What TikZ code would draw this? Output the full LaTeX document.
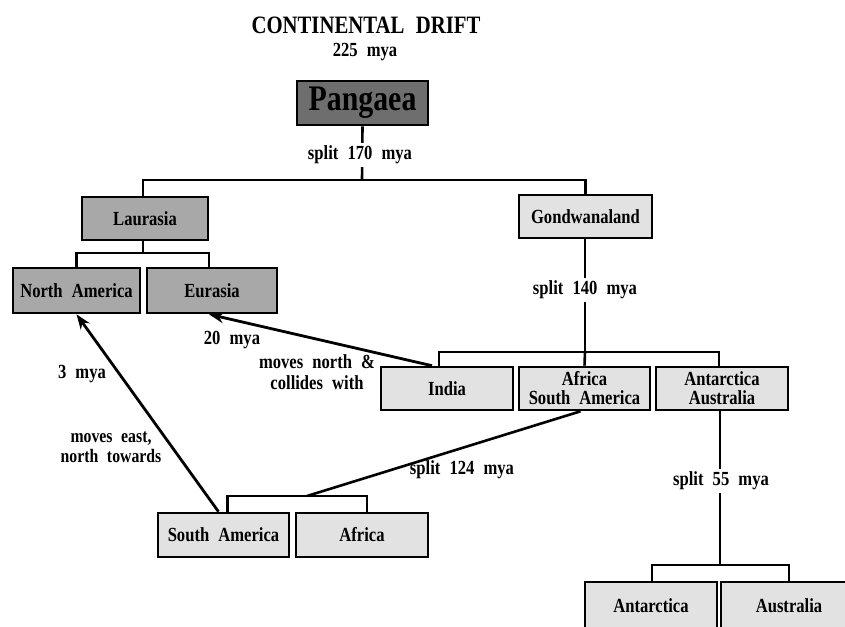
\documentclass[tikz,border=0pt]{standalone}
\usepackage{fontspec}
\setmainfont{Liberation Serif}[WordSpace=2.2,FakeStretch=0.83]
\usetikzlibrary{arrows.meta}
\definecolor{darkbox}{HTML}{6E6E6E}
\definecolor{midbox}{HTML}{A8A8A8}
\definecolor{lightbox}{HTML}{E2E2E2}
\begin{document}
\begin{tikzpicture}[x=1pt,y=-1pt,
  box/.style={draw=black,line width=2.6pt,minimum height=43pt,inner sep=1pt,align=center,
    font=\fontsize{20}{19}\selectfont\bfseries},
  boxmid/.style={box,fill=midbox},
  boxlight/.style={box,fill=lightbox},
  lbl/.style={font=\fontsize{20}{21}\selectfont\bfseries,align=center,inner sep=1pt},
  wlbl/.style={lbl,fill=white,inner sep=3pt},
  conn/.style={line width=2.6pt},
  arr/.style={line width=2.8pt,-{Stealth[length=15pt,width=11pt]}}]
\useasboundingbox (0,0) rectangle (845,626);
\clip (0,0) rectangle (845,626);
\fill[white] (0,0) rectangle (845,626);

% title
\node[font=\fontsize{25}{28}\selectfont\bfseries] (title) at (366,25) {CONTINENTAL DRIFT};
\node[lbl] (t225) at (365,52) {225 mya};

% boxes
\node[box,fill=darkbox,minimum width=131pt,minimum height=44pt,font=\fontsize{36}{38}\selectfont\bfseries] (pang) at (362.5,103) {Pangaea};
\node[boxmid,minimum width=126pt] (laur) at (145,218.5) {Laurasia};
\node[boxlight,minimum width=133pt] (gond) at (585.5,216.5) {Gondwanaland};
\node[boxmid,minimum width=127pt,minimum height=45pt] (nam) at (76.5,290.5) {North America};
\node[boxmid,minimum width=130pt,minimum height=45pt] (eur) at (212,290.5) {Eurasia};
\node[boxlight,minimum width=132pt] (ind) at (447,388.5) {India};
\node[boxlight,minimum width=131pt] (afsa) at (584.5,388.5) {Africa\\South America};
\node[boxlight,minimum width=132pt] (anau) at (722,388.5) {Antarctica\\Australia};
\node[boxlight,minimum width=131pt,minimum height=44pt] (sam) at (223.5,535) {South America};
\node[boxlight,minimum width=132pt,minimum height=44pt] (afr) at (362,535) {Africa};
\node[boxlight,minimum width=132pt,minimum height=48pt] (ant) at (651,606) {Antarctica};
\node[boxlight,minimum width=136pt,minimum height=48pt] (aus) at (789,606) {Australia};

% tree connectors
\coordinate (b1) at (362,180);
\coordinate (b2) at (143,253);
\coordinate (b3) at (585,352);
\coordinate (b4) at (307,496);
\coordinate (b5) at (720,565);

\draw[conn] (pang.south) -- (b1);
\node[wlbl] (s170) at (360,155) {split 170 mya};
\draw[conn] ([xshift=-2pt]laur.north) |- (b1) -| (gond.north);

\draw[conn] ([xshift=-2pt]laur.south) -- (b2);
\draw[conn] (nam.north) |- (b2) -| ([xshift=-3pt]eur.north);

\draw[conn] ([xshift=-0.5pt]gond.south) -- (b3);
\node[wlbl] (s140) at (585,290) {split 140 mya};
\draw[conn] ([xshift=-8pt]ind.north) |- (b3) -| ([xshift=-3pt]anau.north);
\draw[conn] (b3) -- (afsa.north);

\draw[conn] ([xshift=-4pt]afsa.south) -- (b4);
\draw[conn] ([xshift=4pt]sam.north) |- (b4) -| ([xshift=5pt]afr.north);
\node[lbl] (s124) at (462,470) {split 124 mya};

\draw[conn] ([xshift=-2pt]anau.south) -- (b5);
\node[wlbl] (s55) at (721,481) {split 55 mya};
\draw[conn] ([xshift=1pt]ant.north) |- (b5) -| (aus.north);

% drift arrows
\draw[arr] ([xshift=-15pt]ind.north) -- ([xshift=-3pt]eur.south);
\node[lbl] (m20) at (232,340) {20 mya};
\node[lbl] (mnorth) at (317,372) {moves north \&\\collides with};

\draw[arr] ([xshift=-5pt]sam.north) -- (nam.south);
\node[lbl] (m3) at (82,374) {3 mya};
\node[lbl,font=\fontsize{19}{19.5}\selectfont\bfseries] (meast) at (111,447) {moves east,\\north towards};
\end{tikzpicture}
\end{document}
